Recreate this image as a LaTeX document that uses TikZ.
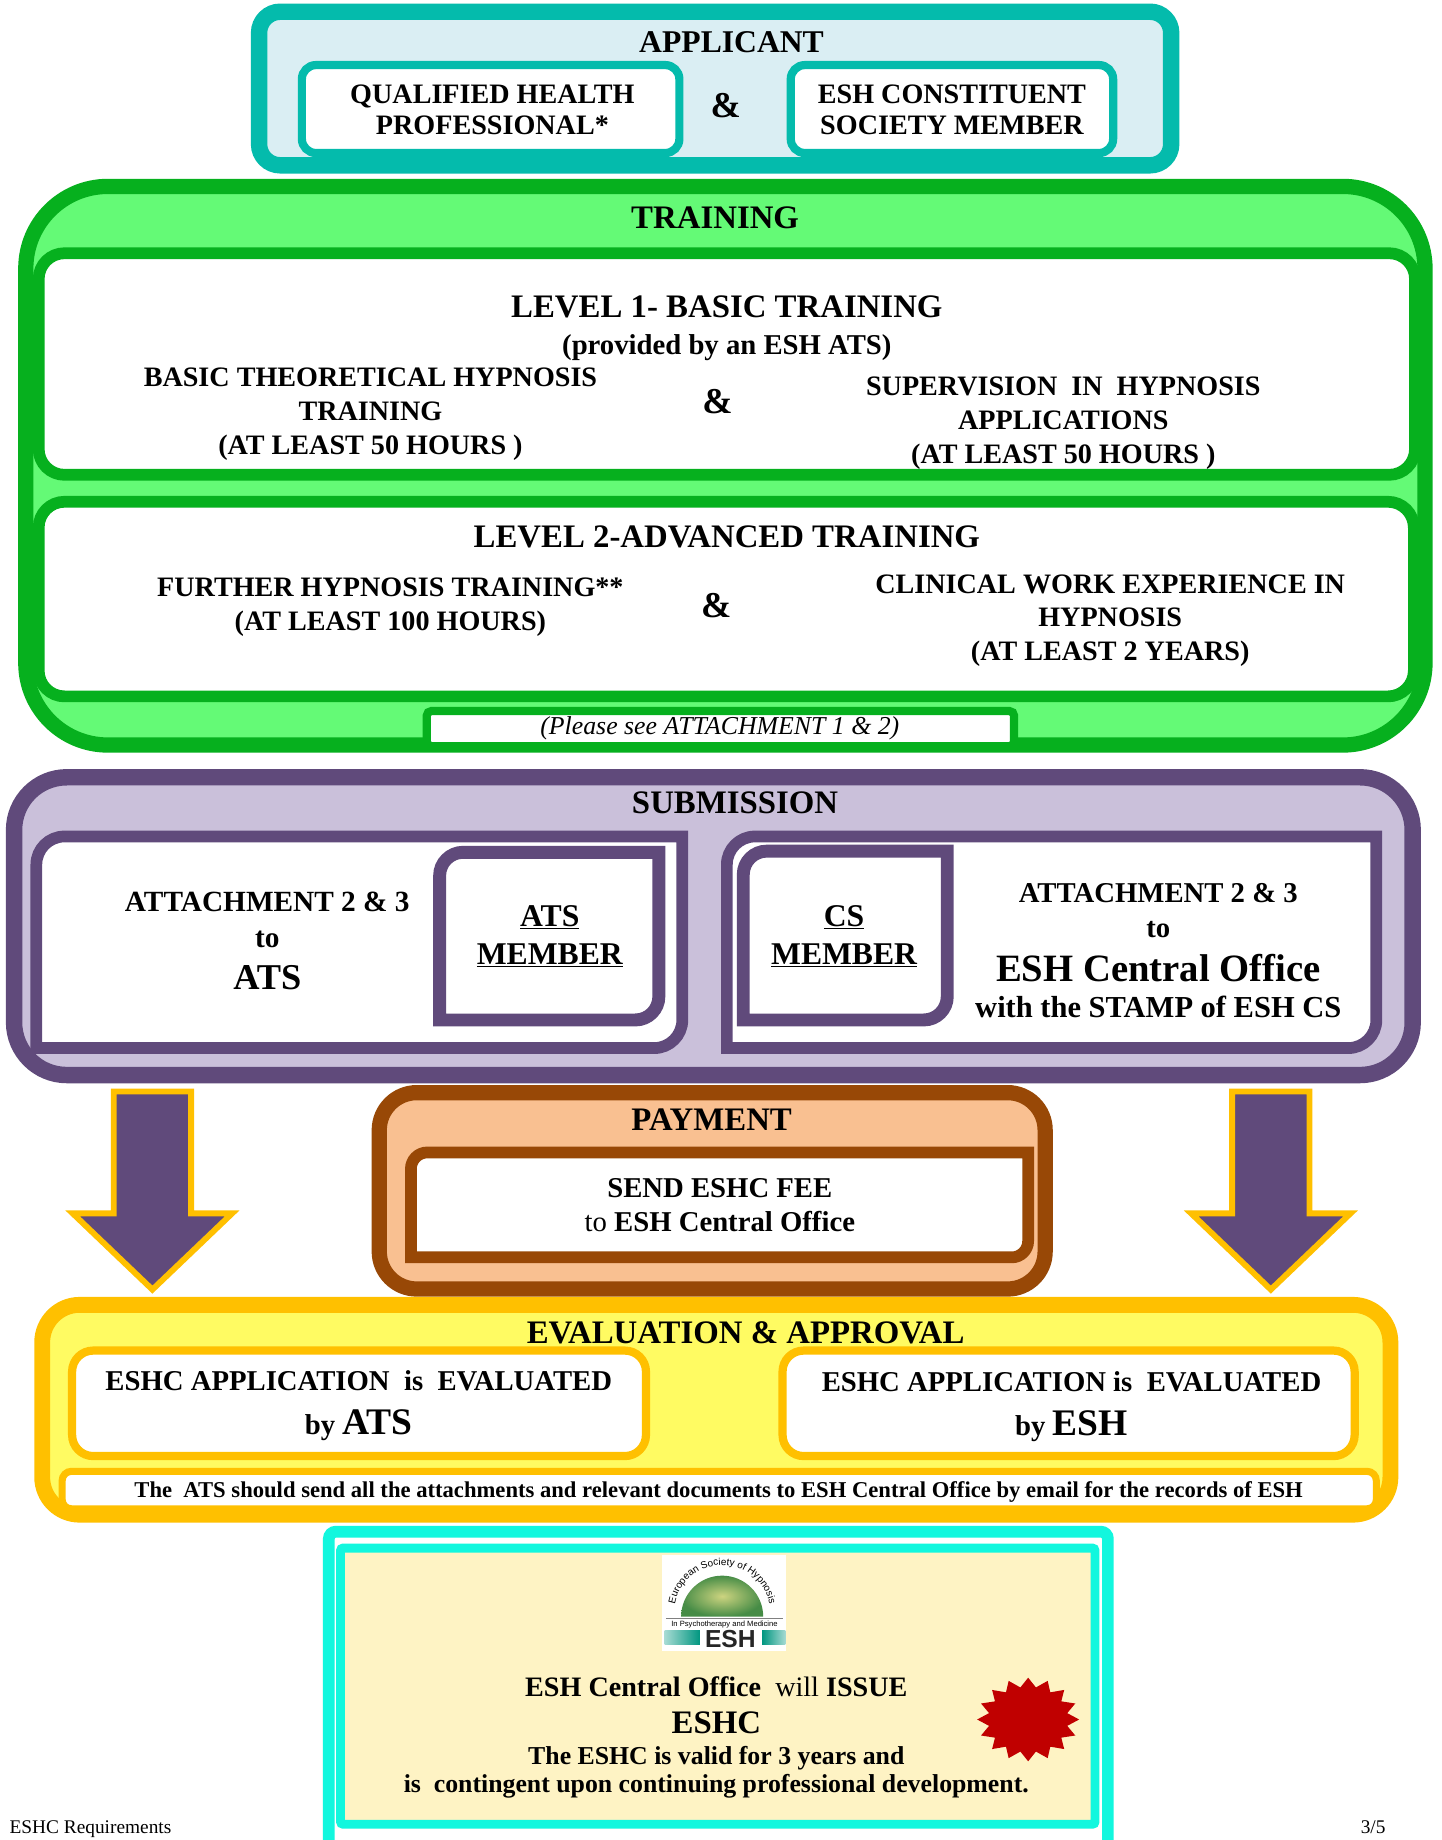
\documentclass[tikz,border=0pt]{standalone}
\usepackage{fontspec}
\setmainfont{Liberation Serif}
\newfontfamily\logofont{Liberation Sans}
\usetikzlibrary{shapes.geometric,decorations.text}

\definecolor{appteal}{RGB}{4,187,172}
\definecolor{appfill}{RGB}{218,238,243}
\definecolor{trgreen}{RGB}{6,176,30}
\definecolor{trfill}{RGB}{100,250,118}
\definecolor{subpurple}{RGB}{96,74,123}
\definecolor{subfill}{RGB}{202,192,218}
\definecolor{paybrown}{RGB}{152,72,6}
\definecolor{payfill}{RGB}{249,192,145}
\definecolor{evgold}{RGB}{255,192,0}
\definecolor{evfill}{RGB}{255,251,98}
\definecolor{certcyan}{RGB}{18,247,222}
\definecolor{certfill}{RGB}{254,243,196}
\definecolor{sealred}{RGB}{192,0,0}
\definecolor{logoteal}{RGB}{0,150,128}
\definecolor{globein}{RGB}{205,212,128}
\definecolor{globeout}{RGB}{70,140,70}

% box with only the top left and bottom right corners rounded
\newcommand{\diagframe}[3]{%
  \path[#3] (#1.south west) -- ([yshift=-#2]#1.north west)
    arc[start angle=180, end angle=90, radius=#2] -- (#1.north east)
    -- ([yshift=#2]#1.south east)
    arc[start angle=0, end angle=-90, radius=#2] -- cycle;}

\begin{document}
\begin{tikzpicture}[x=1pt, y=1pt,
    roundbox/.style={draw, inner sep=0pt, outer sep=0pt, rounded corners=#1},
    slot/.style={inner sep=0pt, outer sep=0pt},
    ttl/.style={anchor=north, inner sep=0pt, font=\fontsize{28}{30}\selectfont\bfseries},
    txt/.style={anchor=north, inner sep=0pt, align=center, font=\fontsize{24}{29}\selectfont\bfseries},
    amp/.style={anchor=north, inner sep=0pt, font=\fontsize{31}{31}\selectfont\bfseries},
    bigarrow/.style={fill=subpurple, draw=evgold, line width=5pt},
  ]
  \path[use as bounding box, fill=white] (0,0) rectangle (1230,-1569.5);

  % applicant
  \node[roundbox=18pt, draw=appteal, fill=appfill, line width=14pt,
    minimum width=778pt, minimum height=131pt] (appl) at (610,-75.5) {};
  \node[ttl, font=\fontsize{27}{30}\selectfont\bfseries] (applT) at (624,-27) {APPLICANT};
  \node[roundbox=12pt, draw=appteal, fill=white, line width=7pt,
    minimum width=322pt, minimum height=75pt] (qhp) at (418.5,-93) {};
  \node[txt, font=\fontsize{24}{27}\selectfont\bfseries] (qhpT) at (420,-72) {QUALIFIED HEALTH\\PROFESSIONAL*};
  \node[amp] (applAnd) at (619,-79) {\&};
  \node[roundbox=12pt, draw=appteal, fill=white, line width=7pt,
    minimum width=275pt, minimum height=75pt] (escm) at (812,-93) {};
  \node[txt, font=\fontsize{24}{27}\selectfont\bfseries] (escmT) at (812,-72) {ESH CONSTITUENT\\SOCIETY MEMBER};

  % training
  \node[roundbox=70pt, draw=trgreen, fill=trfill, line width=13pt,
    minimum width=1193.5pt, minimum height=476.5pt] (train) at (618.75,-397.25) {};
  \node[ttl] (trainT) at (610,-176.5) {TRAINING};
  \node[roundbox=22pt, draw=trgreen, fill=white, line width=10pt,
    minimum width=1174pt, minimum height=189pt] (lvA) at (620,-310.5) {};
  \node[ttl] (lvAT) at (620,-252.5) {LEVEL 1- BASIC TRAINING};
  \node[txt, font=\fontsize{24.5}{29}\selectfont\bfseries] (lvAsub) at (620,-285) {(provided by an ESH ATS)};
  \node[txt] (lvAL) at (316,-314) {BASIC THEORETICAL HYPNOSIS\\TRAINING\\(AT LEAST 50 HOURS )};
  \node[amp] (lvAand) at (612,-332) {\&};
  \node[txt] (lvAR) at (907,-321) {SUPERVISION\ \ IN\ \ HYPNOSIS\\APPLICATIONS\\(AT LEAST 50 HOURS )};
  \node[roundbox=22pt, draw=trgreen, fill=white, line width=10pt,
    minimum width=1173pt, minimum height=166pt] (lvB) at (619.5,-511) {};
  \node[ttl] (lvBT) at (620,-448.5) {LEVEL 2-ADVANCED TRAINING};
  \node[txt] (lvBL) at (333,-493) {FURTHER HYPNOSIS TRAINING**\\(AT LEAST 100 HOURS)};
  \node[amp] (lvBand) at (611,-506) {\&};
  \node[txt, font=\fontsize{24}{28.5}\selectfont\bfseries] (lvBR) at (947,-490) {CLINICAL WORK EXPERIENCE IN\\HYPNOSIS\\(AT LEAST 2 YEARS)};
  \node[roundbox=4pt, draw=trgreen, fill=white, line width=7pt,
    minimum width=501pt, minimum height=30pt] (note) at (614.5,-621.5) {};
  \node[inner sep=0pt, font=\fontsize{22}{22}\selectfont\itshape] (noteT) at (614,-621.5) {(Please see ATTACHMENT 1 \& 2)};

  % submission
  \node[roundbox=45pt, draw=subpurple, fill=subfill, line width=14pt,
    minimum width=1193pt, minimum height=254pt] (subm) at (608.5,-790) {};
  \node[ttl] (submT) at (627,-675.5) {SUBMISSION};
  \node[slot, minimum width=551pt, minimum height=180.5pt] (subL) at (306.5,-803.75) {};
  \diagframe{subL}{24pt}{draw=subpurple, fill=white, line width=10pt}
  \node[slot, minimum width=187pt, minimum height=143pt] (atsM) at (468.5,-798.5) {};
  \diagframe{atsM}{20pt}{draw=subpurple, fill=white, line width=11pt}
  \node[txt, font=\fontsize{27}{33}\selectfont\bfseries] (atsMT) at (469,-772) {\underline{ATS}\\\underline{MEMBER}};
  \node[txt, font=\fontsize{25}{30}\selectfont\bfseries] (subLT) at (228,-761)
    {ATTACHMENT 2 \& 3\\to\\[6pt]{\fontsize{31}{31}\selectfont ATS}};
  \node[slot, minimum width=554pt, minimum height=180.5pt] (subR) at (897,-803.75) {};
  \diagframe{subR}{24pt}{draw=subpurple, fill=white, line width=10pt}
  \node[slot, minimum width=174pt, minimum height=144pt] (csM) at (721,-798) {};
  \diagframe{csM}{20pt}{draw=subpurple, fill=white, line width=11pt}
  \node[txt, font=\fontsize{27}{33}\selectfont\bfseries] (csMT) at (720,-772) {\underline{CS}\\\underline{MEMBER}};
  \node[txt, font=\fontsize{24.5}{30}\selectfont\bfseries] (subRT) at (988,-753)
    {ATTACHMENT 2 \& 3\\to\\[8pt]{\fontsize{33}{33}\selectfont ESH Central Office}\\{\fontsize{26}{26}\selectfont with the STAMP of ESH CS}};

  % big arrows down to the evaluation
  \draw[bigarrow] (97,-931) -- (163,-931) -- (163,-1035) -- (198,-1035)
    -- (130,-1100) -- (62,-1035) -- (97,-1035) -- cycle;
  \draw[bigarrow] (1051,-931) -- (1117,-931) -- (1117,-1035) -- (1152,-1035)
    -- (1084,-1100) -- (1016,-1035) -- (1051,-1035) -- cycle;

  % payment
  \node[roundbox=32pt, draw=paybrown, fill=payfill, line width=13pt,
    minimum width=568pt, minimum height=167.5pt] (pay) at (607.5,-1015.75) {};
  \node[ttl] (payT) at (607,-945.5) {PAYMENT};
  \node[slot, minimum width=526.5pt, minimum height=89.5pt] (payIn) at (613.75,-1027.75) {};
  \diagframe{payIn}{14pt}{draw=paybrown, fill=white, line width=10pt}
  \node[txt, font=\fontsize{24.5}{29}\selectfont\bfseries] (payTxt) at (614,-1005) {SEND ESHC FEE\\{\mdseries to} ESH Central Office};

  % evaluation
  \node[roundbox=32pt, draw=evgold, fill=evfill, line width=13.5pt,
    minimum width=1150pt, minimum height=179pt] (eval) at (611,-1202.5) {};
  \node[ttl] (evalT) at (636,-1127.5) {EVALUATION \& APPROVAL};
  \node[roundbox=18pt, draw=evgold, fill=white, line width=7pt,
    minimum width=489.5pt, minimum height=90pt] (evL) at (306.25,-1197) {};
  \node[txt, font=\fontsize{24.5}{37}\selectfont\bfseries] (evLT) at (306,-1169)
    {ESHC APPLICATION\ \ is\ \ EVALUATED\\by {\fontsize{32}{32}\selectfont ATS}};
  \node[roundbox=18pt, draw=evgold, fill=white, line width=7pt,
    minimum width=488pt, minimum height=90pt] (evR) at (911.5,-1197) {};
  \node[txt, font=\fontsize{24.5}{37}\selectfont\bfseries] (evRT) at (914,-1170)
    {ESHC APPLICATION is\ \ EVALUATED\\by {\fontsize{32}{32}\selectfont ESH}};
  \node[roundbox=8pt, draw=evgold, fill=white, line width=6pt,
    minimum width=1121pt, minimum height=32pt] (evNote) at (613.5,-1271) {};
  \node[anchor=north, inner sep=0pt, font=\fontsize{19.3}{19.3}\selectfont\bfseries] (evNoteT) at (613,-1263.5)
    {The\ \ ATS should send all the attachments and relevant documents to ESH Central Office by email for the records of ESH};

  % certificate
  \node[roundbox=6pt, draw=certcyan, fill=white, line width=10pt,
    minimum width=664.5pt, minimum height=283.5pt] (cert) at (612.75,-1448.25) {};
  \node[roundbox=2pt, draw=certcyan, fill=certfill, line width=7.5pt,
    minimum width=643.5pt, minimum height=235.5pt] (certIn) at (612.25,-1438.25) {};
  \node[slot, fill=white, minimum width=105.5pt, minimum height=82pt] (logo) at (617.75,-1367.3) {};
  \shade[inner color=globein, outer color=globeout] (581,-1379)
    arc[start angle=180, end angle=0, radius=35] -- cycle;
  \path[decorate, decoration={text along path, text align=center,
    text={|\logofont\fontsize{8.5}{8.5}\selectfont|European Society of Hypnosis}}]
    (575,-1376) arc[start angle=180, end angle=0, radius=41];
  \draw[gray, line width=0.6pt] (568,-1380) -- (668,-1380);
  \node[inner sep=0pt, text height=4.5pt, text depth=0pt, font=\logofont\fontsize{6.5}{6.5}\selectfont]
    (logoSub) at (618,-1385.5) {In Psychotherapy and Medicine};
  \shade[left color=logoteal!35, right color=logoteal] (567,-1390.5) rectangle (597,-1403);
  \shade[left color=logoteal, right color=logoteal!35] (650,-1390.5) rectangle (670,-1403);
  \node[inner sep=0pt, text height=15pt, text depth=0pt, font=\logofont\bfseries\fontsize{21}{21}\selectfont, text=black!85]
    (logoESH) at (623,-1397.5) {ESH};
  \node[txt, font=\fontsize{24}{24}\selectfont\bfseries] (issue) at (611,-1429.7)
    {ESH Central Office\ \ {\mdseries will} ISSUE\\[8pt]{\fontsize{28}{28}\selectfont ESHC}\\[2pt]%
     {\fontsize{22}{22}\selectfont The ESHC is valid for 3 years and}\\%
     {\fontsize{22}{22}\selectfont is\ \ contingent upon continuing professional development.}};
  \begin{scope}[shift={(877,-1466.7)}, yscale=0.82]
    \node[star, star points=16, star point ratio=1.28, fill=sealred, inner sep=0pt,
      minimum size=87pt, transform shape] (seal) at (0,0) {};
  \end{scope}

  % page footer
  \node[anchor=base west, inner sep=0pt, font=\fontsize{16.5}{16.5}\selectfont] (foot) at (8,-1564) {ESHC Requirements};
  \node[anchor=base east, inner sep=0pt, font=\fontsize{16.5}{16.5}\selectfont] (pageNo) at (1182,-1564) {3/5};
\end{tikzpicture}
\end{document}
